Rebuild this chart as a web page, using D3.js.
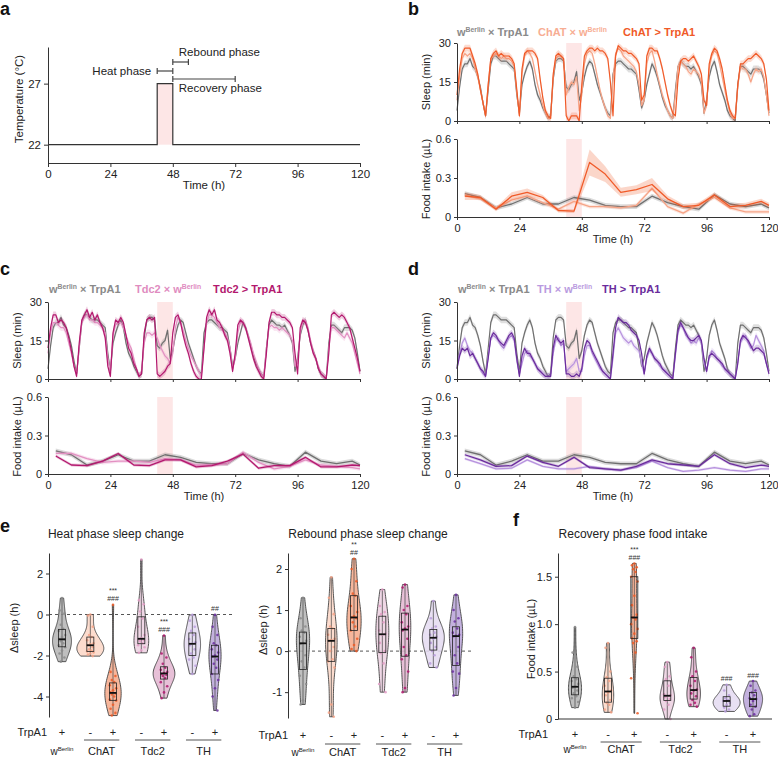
<!DOCTYPE html>
<html><head><meta charset="utf-8">
<script src="https://cdn.jsdelivr.net/npm/d3@7/dist/d3.min.js"></script>
<style>html,body{margin:0;padding:0;background:#fff}</style>
</head><body>
<svg id="fig" width="778" height="759" xmlns="http://www.w3.org/2000/svg"></svg>
<script>
// ================= DATA =================
const timeTicks = [0, 24, 48, 72, 96, 120];
const tempTime  = [0, 42, 42, 48, 48, 120];
const tempValue = [22, 22, 27, 27, 22, 22];
const tempTicks = [22, 27];
const phaseLabels = ["Heat phase", "Rebound phase", "Recovery phase"];
const phaseStart = [42, 48, 48];
const phaseEnd   = [48, 54, 72];
const heatWindow = [42, 48];

const sleepHours = d3.range(0, 121);
const sleepCtrl = [4,13,20,22,22,24,21,20,17,13,7,2, 12,22,25,25,24,23,23,23,22,21,20,10, 3,14,18,21,23,20,14,10,8,5,3,1, 2,16,23,24,24,23,13,12,14,15,19,8, 11,17,21,23,22,18,14,11,8,5,3,2, 18,22,23,23,22,21,20,20,19,18,12,5, 8,14,18,22,20,17,13,9,6,4,2,1, 12,21,23,22,21,21,20,21,19,17,14,3, 8,17,21,23,19,14,11,8,4,2,1,0, 14,21,21,20,19,18,20,20,20,19,16,10,3];
const sleepChatCtrl = [8,17,24,26,25,26,24,20,17,12,7,2, 14,24,25,26,25,24,25,24,24,23,21,11, 2,18,25,27,26,24,19,14,10,6,3,1, 1,17,24,25,25,24,10,13,15,14,17,4, 10,22,26,27,26,22,17,12,8,5,2,1, 16,26,28,27,25,24,23,22,21,19,14,6, 8,22,26,27,23,18,14,10,7,4,2,1, 10,21,23,22,21,19,18,20,19,18,15,3, 6,20,25,27,26,22,17,12,7,3,1,1, 13,21,20,20,18,15,18,20,19,20,17,10,2];
const sleepChatExp = [10,20,26,28,28,28,25,22,18,12,7,2, 14,24,26,27,25,26,25,25,25,24,22,12, 2,20,26,27,27,27,26,24,16,9,4,2, 1,18,25,26,25,24,2,0,2,2,2,0, 14,25,27,28,28,27,28,27,27,26,24,15, 2,25,29,28,27,27,26,26,25,24,22,8, 10,25,28,28,27,27,24,20,15,10,6,3, 2,16,23,24,24,23,24,25,23,21,18,8, 6,22,26,28,27,24,20,14,8,4,2,1, 14,22,22,23,24,24,25,26,25,24,22,16,4];
const sleepTdc2Ctrl = [10,18,22,22,21,20,20,18,14,10,5,2, 12,22,24,25,23,23,22,22,21,20,18,8, 3,17,21,22,22,20,17,14,12,8,4,1, 3,14,18,18,17,18,16,13,11,9,8,6, 10,20,24,22,19,15,12,9,7,5,3,1, 12,22,25,25,24,22,20,19,18,16,12,4, 8,18,22,22,20,17,14,10,7,4,2,1, 12,20,21,20,20,19,20,19,18,17,15,5, 6,18,22,23,20,15,11,8,5,2,1,0, 12,20,20,19,18,17,16,18,16,14,10,6,2];
const sleepTdc2Exp = [12,20,25,25,22,23,22,20,16,11,5,1, 14,23,25,27,24,26,23,25,22,20,16,5, 1,18,23,22,24,22,17,12,10,6,4,1, 2,18,23,24,23,24,2,1,2,3,5,6, 18,24,25,22,17,13,10,6,3,1,0,0, 12,24,27,25,27,23,22,20,17,15,10,3, 10,21,23,22,20,16,12,8,5,3,1,0, 10,22,26,26,25,25,24,24,23,22,20,10, 2,20,23,22,19,14,10,8,4,2,1,0, 10,25,26,25,24,25,24,22,20,16,12,8,3];
const sleepThCtrl = [5,10,14,16,13,11,10,8,6,4,2,1, 9,16,17,16,15,13,12,14,16,17,15,7, 2,6,10,11,9,8,6,4,3,2,1,1, 1,10,15,16,13,14,3,4,5,6,8,3, 3,9,13,13,10,8,6,4,3,2,1,0, 8,18,20,18,16,15,14,15,13,12,11,6, 2,8,11,10,8,7,5,4,3,2,1,0, 9,18,21,20,17,16,14,15,14,16,14,6, 3,8,11,10,8,7,5,4,3,2,1,0, 7,14,16,17,14,12,13,17,15,13,11,6,3];
const sleepThExp = [4,9,12,11,12,9,10,8,6,4,3,1, 8,16,18,17,15,14,13,15,17,18,16,8, 1,9,12,10,10,8,6,4,3,2,1,1, 1,12,17,15,14,15,2,2,1,1,2,1, 4,12,15,14,11,9,7,5,3,2,1,0, 10,20,24,23,22,22,21,19,18,17,15,10, 2,9,12,10,8,7,6,4,3,2,1,0, 10,19,22,20,18,16,15,15,16,17,15,8, 3,9,10,9,8,7,6,4,3,2,1,0, 6,15,17,16,15,13,11,12,12,11,10,6,2];
const semSleep = 1.3;

const foodTime = [3,9,15,21,27,33,39,45,51,57,63,69,75,81,87,93,99,105,111,117,120];
const foodCtrl     = [0.18,0.15,0.07,0.10,0.15,0.10,0.10,0.15,0.13,0.09,0.08,0.08,0.16,0.11,0.08,0.06,0.17,0.10,0.08,0.10,0.07];
const foodChatCtrl = [0.17,0.14,0.07,0.13,0.16,0.11,0.06,0.12,0.08,0.08,0.07,0.09,0.22,0.08,0.03,0.10,0.15,0.07,0.04,0.04,0.04];
const foodChatExp  = [0.16,0.15,0.06,0.16,0.19,0.15,0.05,0.045,0.42,0.33,0.19,0.21,0.25,0.14,0.08,0.09,0.17,0.08,0.09,0.12,0.09];
const foodTdc2Ctrl = [0.16,0.16,0.12,0.09,0.10,0.10,0.09,0.12,0.11,0.07,0.07,0.08,0.17,0.09,0.04,0.06,0.11,0.07,0.06,0.05,0.04];
const foodTdc2Exp  = [0.14,0.07,0.065,0.10,0.16,0.07,0.065,0.11,0.11,0.055,0.065,0.10,0.155,0.045,0.065,0.065,0.13,0.055,0.055,0.07,0.065];
const foodThCtrl   = [0.12,0.08,0.04,0.045,0.11,0.06,0.04,0.04,0.06,0.04,0.03,0.05,0.10,0.05,0.02,0.03,0.05,0.03,0.02,0.04,0.04];
const foodThExp    = [0.15,0.11,0.06,0.065,0.14,0.09,0.06,0.13,0.05,0.04,0.03,0.06,0.11,0.08,0.07,0.06,0.15,0.08,0.05,0.07,0.06];
const semFoodCtrl = 0.018, semFoodChatCtrl = 0.015, semFoodTdc2Ctrl = 0.015, semFoodTdc2Exp = 0.012, semFoodThCtrl = 0.01, semFoodThExp = 0.012;
const semFoodChatExp = [0.03,0.02,0.015,0.03,0.03,0.02,0.015,0.015,0.10,0.06,0.035,0.035,0.05,0.025,0.02,0.02,0.02,0.02,0.02,0.02,0.02];

const legendB = [[["w",0],["Berlin",1],[" × TrpA1",0]], [["ChAT × w",0],["Berlin",1]], [["ChAT > TrpA1",0]]];
const legendC = [[["w",0],["Berlin",1],[" × TrpA1",0]], [["Tdc2 × w",0],["Berlin",1]], [["Tdc2 > TrpA1",0]]];
const legendD = [[["w",0],["Berlin",1],[" × TrpA1",0]], [["TH × w",0],["Berlin",1]], [["TH > TrpA1",0]]];

// violin groups: wBerlin+, ChAT-, ChAT+, Tdc2-, Tdc2+, TH-, TH+
const groupSigns = ["+", "-", "+", "-", "+", "-", "+"];
const groupNames = [[["w",0],["Berlin",1]], [["ChAT",0]], [["Tdc2",0]], [["TH",0]]];
const heatChange = [
  [0.8,0.2,0.05,-0.5,-0.7,-0.8,-1.0,-1.1,-1.2,-1.22,-1.3,-1.4,-1.5,-1.6,-1.76,-1.9,-2.1,-2.3],
  [0.0,-0.05,-0.6,-1.0,-1.1,-1.25,-1.4,-1.45,-1.5,-1.6,-1.7,-1.76,-1.8,-1.85,-1.9,-1.95,-2.03],
  [0.47,-2.8,-3.0,-3.2,-3.3,-3.45,-3.6,-3.7,-3.8,-3.85,-3.9,-4.0,-4.15,-4.2,-4.4,-4.6,-4.8,-4.93],
  [2.68,0.7,0.5,0.15,-0.2,-0.6,-1.0,-1.15,-1.22,-1.25,-1.3,-1.4,-1.5,-1.6,-1.75,-1.87],
  [-1.03,-1.9,-2.1,-2.4,-2.6,-2.7,-2.8,-2.85,-2.9,-2.95,-3.0,-3.1,-3.3,-3.5,-3.8,-4.08],
  [-0.02,-0.3,-0.6,-0.8,-1.0,-1.2,-1.35,-1.43,-1.5,-1.7,-1.9,-2.1,-2.2,-2.5,-2.9],
  [-0.02,-0.6,-1.0,-1.4,-1.5,-1.7,-1.85,-2.0,-2.05,-2.2,-2.4,-2.6,-2.9,-3.2,-3.6,-4.0,-4.68]
];
const reboundChange = [
  [1.3,0.8,0.6,0.5,0.45,0.35,0.25,0.2,0.18,-0.1,-0.25,-0.4,-0.6,-0.8,-1.2,-1.3],
  [1.8,1.3,0.9,0.6,0.55,0.4,0.3,0.27,0.25,0.1,0.0,-0.2,-0.25,-0.4,-1.3,-1.5,-1.6],
  [2.25,2.0,1.7,1.4,1.35,1.1,0.95,0.85,0.82,0.8,0.7,0.6,0.5,0.3,0.15,0.05,0.0],
  [1.5,1.1,0.95,0.9,0.7,0.5,0.42,0.4,0.2,0.0,-0.05,-0.3,-0.8,-1.0],
  [1.62,1.55,1.1,1.0,0.9,0.7,0.6,0.55,0.5,0.3,0.1,-0.1,-0.2,-0.5,-0.9,-1.0],
  [1.22,0.8,0.6,0.55,0.45,0.4,0.35,0.3,0.2,0.1,0.0,-0.1,-0.3,-0.4],
  [1.37,1.0,0.8,0.72,0.55,0.45,0.4,0.37,0.36,0.1,-0.1,-0.3,-0.5,-0.55,-0.9,-1.08]
];
const recoveryFood = [
  [0.97,0.7,0.55,0.45,0.42,0.40,0.37,0.34,0.33,0.30,0.27,0.24,0.22,0.18,0.12],
  [0.8,0.75,0.5,0.44,0.4,0.35,0.3,0.28,0.25,0.2,0.17,0.15,0.1,0.07],
  [1.64,1.62,1.6,1.58,1.55,1.5,1.45,1.3,1.2,1.1,1.07,1.05,1.0,0.95,0.9,0.85,0.82,0.8,0.7,0.43,0.06],
  [0.6,0.55,0.45,0.42,0.35,0.26,0.25,0.24,0.23,0.21,0.19,0.15,0.1,0.0],
  [0.75,0.65,0.5,0.45,0.4,0.35,0.31,0.3,0.27,0.24,0.2,0.17,0.15,0.13],
  [0.36,0.3,0.25,0.22,0.2,0.19,0.17,0.15,0.12,0.1,0.08],
  [0.4,0.35,0.3,0.28,0.25,0.22,0.21,0.19,0.15,0.13,0.1,0.05,0.03]
];
const heatStats = [null, null, ["***","###"], null, ["***","###"], null, ["##"]];
const reboundStats = [null, null, ["**","##"], null, null, null, null];
const recoveryStats = [null, null, ["***","###"], null, null, ["###"], ["###"]];

// ================= STYLE =================
const FONT = "'Liberation Sans', Arial, Helvetica, sans-serif";
const HEAT = "#fde6e6";
const C = {
  ctrl: "#6f6f6f", chatC: "#f6a487", chatE: "#f05a28", tdcC: "#e390c2", tdcE: "#b3186e", thC: "#b792de", thE: "#6a2c9c"
};
const legendCol = {ctrl: "#8a8a8a", chatC: "#f7ad93", chatE: "#f05a28", tdcC: "#e08cbf", tdcE: "#b3186e", thC: "#b99ae0", thE: "#6a2c9c"};
const violinFill = ["#b4b4b4", "#fcd6c6", "#f6a98a", "#ecd0e1", "#e3b5d0", "#e4daf1", "#b9a3d8"];
const dotCol = ["#8b8b8b", "#f5a286", "#ef5a26", "#e29cc6", "#b0176e", "#b99cdc", "#6b2fa0"];
const slotPos = [0, 1.25, 2.25, 3.5, 4.5, 5.75, 6.75];

const svg = d3.select("#fig").attr("font-family", FONT);

function styleAxis(g, fs) {
  g.selectAll("path.domain").attr("stroke", "#333").attr("stroke-width", 1);
  g.selectAll(".tick line").attr("stroke", "#333").attr("stroke-width", 1);
  g.selectAll(".tick text").attr("font-size", fs || 11).attr("fill", "#222").attr("font-family", FONT);
}
function richText(g, x, y, parts, opt) {
  const size = opt.size || 11;
  const t = g.append("text").attr("x", x).attr("y", y).attr("font-size", size)
    .attr("fill", opt.fill || "#222").attr("font-weight", opt.weight || "normal")
    .attr("text-anchor", opt.anchor || "start");
  let sup = false;
  parts.forEach(([s, isSup]) => {
    const ts = t.append("tspan").text(s);
    if (isSup && !sup) ts.attr("font-size", size * 0.62).attr("dy", -size * 0.38);
    else if (!isSup && sup) ts.attr("dy", size * 0.38);
    else if (isSup) ts.attr("font-size", size * 0.62);
    sup = !!isSup;
  });
  return t;
}
function letter(l, x, y) {
  svg.append("text").attr("x", x).attr("y", y).attr("font-size", 18).attr("font-weight", "bold").attr("fill", "#111").text(l);
}
function vLabel(text, x, y, fs) {
  svg.append("text").attr("transform", `translate(${x},${y}) rotate(-90)`).attr("text-anchor", "middle")
    .attr("font-size", fs || 11).attr("fill", "#222").text(text);
}

// ================= PANEL a =================
(function () {
  const g = svg.append("g");
  const x = d3.scaleLinear().domain([0, 120]).range([48, 360]);
  const y = d3.scaleLinear().domain([20.5, 30]).range([163, 47]);
  g.append("rect").attr("x", x(heatWindow[0])).attr("width", x(heatWindow[1]) - x(heatWindow[0]))
    .attr("y", y(27)).attr("height", y(22) - y(27)).attr("fill", HEAT);
  const pts = tempTime.map((t, i) => [t, tempValue[i]]);
  g.append("path").attr("d", d3.line().x(d => x(d[0])).y(d => y(d[1]))(pts))
    .attr("fill", "none").attr("stroke", "#333").attr("stroke-width", 1.2);
  const ax = g.append("g").attr("transform", "translate(0,163)")
    .call(d3.axisBottom(x).tickValues(timeTicks).tickSize(4).tickPadding(3).tickSizeOuter(0));
  styleAxis(ax, 11.5);
  const ay = g.append("g").attr("transform", "translate(48,0)")
    .call(d3.axisLeft(y).tickValues(tempTicks).tickSize(4).tickPadding(3).tickSizeOuter(0));
  styleAxis(ay, 11.5);
  const barY = [71, 62, 79];
  phaseLabels.forEach((lab, i) => {
    const yy = barY[i], xa = x(phaseStart[i]), xb = x(phaseEnd[i]);
    g.append("line").attr("x1", xa).attr("x2", xb).attr("y1", yy).attr("y2", yy).attr("stroke", "#444").attr("stroke-width", 1.2);
    [xa, xb].forEach(xx => g.append("line").attr("x1", xx).attr("x2", xx).attr("y1", yy - 3).attr("y2", yy + 3).attr("stroke", "#444").attr("stroke-width", 1.2));
  });
  g.append("text").attr("x", x(phaseStart[0]) - 6).attr("y", 75).attr("text-anchor", "end").attr("font-size", 11.5).attr("fill", "#222").text(phaseLabels[0]);
  g.append("text").attr("x", x(phaseStart[1]) + 6).attr("y", 56).attr("font-size", 11.5).attr("fill", "#222").text(phaseLabels[1]);
  g.append("text").attr("x", x(phaseStart[2]) + 6).attr("y", 92).attr("font-size", 11.5).attr("fill", "#222").text(phaseLabels[2]);
  g.append("text").attr("x", 204).attr("y", 189).attr("text-anchor", "middle").attr("font-size", 11.5).attr("fill", "#222").text("Time (h)");
  vLabel("Temperature (°C)", 23, 99, 11.5);
  letter("a", 0, 15);
})();

// ================= PANELS b, c, d =================
function drawTS(cfg) {
  const g = svg.append("g");
  const x = d3.scaleLinear().domain([0, 120]).range([cfg.x0, cfg.x1]);
  const ys = d3.scaleLinear().domain([0, 30]).range([cfg.sBot, cfg.sTop]);
  const yf = d3.scaleLinear().domain([0, 0.6]).range([cfg.fBot, cfg.fTop]);
  [[cfg.sTop, cfg.sBot], [cfg.fTop, cfg.fBot]].forEach(([t, b]) =>
    g.append("rect").attr("x", x(heatWindow[0])).attr("width", x(heatWindow[1]) - x(heatWindow[0]))
      .attr("y", t).attr("height", b - t).attr("fill", HEAT));
  cfg.sleep.forEach((arr, k) => {
    const pts = sleepHours.map((h, i) => [h, arr[i]]);
    g.append("path").attr("d", d3.area().x(d => x(d[0])).y0(d => ys(Math.max(0, d[1] - semSleep))).y1(d => ys(Math.min(30, d[1] + semSleep)))(pts))
      .attr("fill", cfg.colors[k]).attr("opacity", 0.22);
    g.append("path").attr("d", d3.line().x(d => x(d[0])).y(d => ys(d[1]))(pts))
      .attr("fill", "none").attr("stroke", cfg.colors[k]).attr("stroke-width", 1.2).attr("stroke-linejoin", "round");
  });
  cfg.food.forEach((arr, k) => {
    const sem = cfg.foodSem[k];
    const pts = foodTime.map((t, i) => [t, arr[i], typeof sem === "number" ? sem : sem[i]]);
    g.append("path").attr("d", d3.area().x(d => x(d[0])).y0(d => yf(Math.max(0, d[1] - d[2]))).y1(d => yf(d[1] + d[2]))(pts))
      .attr("fill", cfg.colors[k]).attr("opacity", 0.25);
    g.append("path").attr("d", d3.line().x(d => x(d[0])).y(d => yf(d[1]))(pts))
      .attr("fill", "none").attr("stroke", cfg.colors[k]).attr("stroke-width", 1.3).attr("stroke-linejoin", "round");
  });
  styleAxis(g.append("g").attr("transform", `translate(0,${cfg.sBot})`)
    .call(d3.axisBottom(x).tickValues(timeTicks).tickFormat("").tickSize(3).tickSizeOuter(0)));
  styleAxis(g.append("g").attr("transform", `translate(${cfg.x0},0)`)
    .call(d3.axisLeft(ys).tickValues([0, 15, 30]).tickSize(3).tickPadding(3).tickSizeOuter(0)));
  styleAxis(g.append("g").attr("transform", `translate(0,${cfg.fBot})`)
    .call(d3.axisBottom(x).tickValues(timeTicks).tickSize(3).tickPadding(4).tickSizeOuter(0)));
  styleAxis(g.append("g").attr("transform", `translate(${cfg.x0},0)`)
    .call(d3.axisLeft(yf).tickValues([0, 0.3, 0.6]).tickFormat(d => d === 0 ? "0" : d3.format(".1f")(d)).tickSize(3).tickPadding(3).tickSizeOuter(0)));
  g.append("text").attr("x", (cfg.x0 + cfg.x1) / 2).attr("y", cfg.timeY).attr("text-anchor", "middle").attr("font-size", 11).attr("fill", "#222").text("Time (h)");
  vLabel("Sleep (min)", cfg.labelX, (cfg.sTop + cfg.sBot) / 2);
  vLabel("Food intake (µL)", cfg.labelX, (cfg.fTop + cfg.fBot) / 2 + 1);
  cfg.legend.forEach((parts, k) => richText(g, cfg.legendX[k], cfg.legendY, parts, {size: 11, weight: "bold", fill: cfg.legendColors[k]}));
  letter(cfg.letter, cfg.letterX, cfg.letterY);
}

drawTS({x0: 457, x1: 769, sTop: 43, sBot: 121, fTop: 139, fBot: 217, timeY: 243, labelX: 430,
  legend: legendB, legendX: [457, 538, 623], legendY: 36, legendColors: [legendCol.ctrl, legendCol.chatC, legendCol.chatE],
  sleep: [sleepCtrl, sleepChatCtrl, sleepChatExp], food: [foodCtrl, foodChatCtrl, foodChatExp],
  foodSem: [semFoodCtrl, semFoodChatCtrl, semFoodChatExp], colors: [C.ctrl, C.chatC, C.chatE],
  letter: "b", letterX: 408, letterY: 15});
drawTS({x0: 48, x1: 360, sTop: 302, sBot: 379, fTop: 397, fBot: 474, timeY: 500, labelX: 21,
  legend: legendC, legendX: [49, 135, 213], legendY: 293, legendColors: [legendCol.ctrl, legendCol.tdcC, legendCol.tdcE],
  sleep: [sleepCtrl, sleepTdc2Ctrl, sleepTdc2Exp], food: [foodCtrl, foodTdc2Ctrl, foodTdc2Exp],
  foodSem: [semFoodCtrl, semFoodTdc2Ctrl, semFoodTdc2Exp], colors: [C.ctrl, C.tdcC, C.tdcE],
  letter: "c", letterX: 0, letterY: 275});
drawTS({x0: 457, x1: 769, sTop: 302, sBot: 379, fTop: 397, fBot: 474, timeY: 500, labelX: 430,
  legend: legendD, legendX: [458, 537, 602], legendY: 293, legendColors: [legendCol.ctrl, legendCol.thC, legendCol.thE],
  sleep: [sleepCtrl, sleepThCtrl, sleepThExp], food: [foodCtrl, foodThCtrl, foodThExp],
  foodSem: [semFoodCtrl, semFoodThCtrl, semFoodThExp], colors: [C.ctrl, C.thC, C.thE],
  letter: "d", letterX: 408, letterY: 275});

// ================= PANELS e, f =================
function kde(vals, bw, p) {
  const k = 1 / (bw * Math.sqrt(2 * Math.PI));
  return k * d3.mean(vals, v => Math.exp(-0.5 * ((p - v) / bw) ** 2));
}
function drawViolins(cfg) {
  const g = svg.append("g");
  const y = d3.scaleLinear().domain(cfg.yDomain).range([cfg.yBot, cfg.yTop]);
  const x = d3.scaleLinear().domain([0, 6.75]).range([cfg.xFirst, cfg.xLast]);
  const unit = x(1) - x(0);
  const dens = cfg.groups.map(vals => {
    const n = vals.length, sd = d3.deviation(vals), bw = sd * Math.pow(n, -0.2);
    const lo = d3.min(vals), hi = d3.max(vals);
    return d3.range(0, 61).map(i => { const p = lo + (hi - lo) * i / 60; return [p, kde(vals, bw, p)]; });
  });
  const gmax = d3.max(dens, d => d3.max(d, e => e[1]));
  const K = cfg.maxHalf / gmax;
  if (cfg.dashZero) g.append("line").attr("x1", cfg.axisX).attr("x2", cfg.dashEnd).attr("y1", y(0)).attr("y2", y(0))
    .attr("stroke", "#555").attr("stroke-width", 1).attr("stroke-dasharray", "3,3");
  cfg.groups.forEach((vals, i) => {
    const cx = x(slotPos[i]);
    g.append("path").attr("d", d3.area().curve(d3.curveBasis).y(d => y(d[0])).x0(d => cx - d[1] * K).x1(d => cx + d[1] * K)(dens[i]))
      .attr("fill", violinFill[i]).attr("fill-opacity", 0.85).attr("stroke", "#444").attr("stroke-width", 0.9);
    const s = vals.slice().sort(d3.ascending);
    const q1 = d3.quantile(s, 0.25), q2 = d3.quantile(s, 0.5), q3 = d3.quantile(s, 0.75);
    g.append("line").attr("x1", cx).attr("x2", cx).attr("y1", y(s[0])).attr("y2", y(s[s.length - 1])).attr("stroke", "#444").attr("stroke-width", 0.7);
    const offs = [0, -2.4, 2.4, -1.2, 1.2, -3.2, 3.2];
    vals.forEach((v, j) => g.append("circle").attr("cx", cx + offs[j % 7]).attr("cy", y(v)).attr("r", 1.3)
      .attr("fill", dotCol[i]).attr("opacity", 0.85));
    g.append("rect").attr("x", cx - 3.5).attr("width", 7).attr("y", y(q3)).attr("height", y(q1) - y(q3))
      .attr("fill", "none").attr("stroke", "#222").attr("stroke-width", 0.8);
    g.append("line").attr("x1", cx - 3.5).attr("x2", cx + 3.5).attr("y1", y(q2)).attr("y2", y(q2)).attr("stroke", "#111").attr("stroke-width", 1.8);
    const st = cfg.stats[i];
    if (st) {
      const top = y(s[s.length - 1]);
      st.slice().reverse().forEach((t, j) => g.append("text").attr("x", cx).attr("y", top - 3.5 - j * 8)
        .attr("text-anchor", "middle").attr("font-size", 7).attr("fill", "#333").text(t));
    }
    g.append("text").attr("x", cx).attr("y", cfg.signY).attr("text-anchor", "middle").attr("font-size", 11).attr("fill", "#222").text(groupSigns[i]);
  });
  g.append("text").attr("x", x(0) - cfg.trpGap).attr("y", cfg.signY).attr("text-anchor", "end").attr("font-size", 11).attr("fill", "#222").text("TrpA1");
  const centers = [x(slotPos[0]), (x(slotPos[1]) + x(slotPos[2])) / 2, (x(slotPos[3]) + x(slotPos[4])) / 2, (x(slotPos[5]) + x(slotPos[6])) / 2];
  groupNames.forEach((parts, k) => {
    richText(g, centers[k], cfg.nameY, parts, {size: k === 0 ? 10 : 11, anchor: "middle"});
    if (k > 0) g.append("line").attr("x1", centers[k] - 0.78 * unit).attr("x2", centers[k] + 0.78 * unit)
      .attr("y1", cfg.underY).attr("y2", cfg.underY).attr("stroke", "#555").attr("stroke-width", 1);
  });
  const ay = g.append("g").attr("transform", `translate(${cfg.axisX},0)`)
    .call(d3.axisLeft(y).tickValues(cfg.ticks).tickFormat(cfg.fmt).tickSize(3).tickPadding(3).tickSizeOuter(0));
  styleAxis(ay, 11);
  if (cfg.xAxisEnd) g.append("line").attr("x1", cfg.axisX).attr("x2", cfg.xAxisEnd).attr("y1", cfg.yBot).attr("y2", cfg.yBot).attr("stroke", "#333").attr("stroke-width", 1);
  g.append("text").attr("x", cfg.titleX).attr("y", 538).attr("text-anchor", "middle").attr("font-size", 12).attr("fill", "#222").text(cfg.title);
  vLabel(cfg.yLabel, cfg.yLabelX, cfg.yLabelY, 11);
}

drawViolins({groups: heatChange, stats: heatStats, yDomain: [-5, 3], yBot: 717, yTop: 553, xFirst: 62, xLast: 215, axisX: 49,
  maxHalf: 13.5, dashZero: true, dashEnd: 233, ticks: [-4, -2, 0, 2], fmt: d => d, signY: 736, underY: 740, nameY: 755, trpGap: 15,
  title: "Heat phase sleep change", titleX: 116, yLabel: "Δsleep (h)", yLabelX: 18, yLabelY: 628});
drawViolins({groups: reboundChange, stats: reboundStats, yDomain: [-1.63, 2.39], yBot: 718, yTop: 553, xFirst: 303, xLast: 456, axisX: 288,
  maxHalf: 11, dashZero: true, dashEnd: 473, ticks: [-1, 0, 1, 2], fmt: d => d, signY: 739, underY: 744, nameY: 756, trpGap: 15,
  title: "Rebound phase sleep change", titleX: 368, yLabel: "Δsleep (h)", yLabelX: 267, yLabelY: 630});
drawViolins({groups: recoveryFood, stats: recoveryStats, yDomain: [0, 1.75], yBot: 719, yTop: 553, xFirst: 575, xLast: 753, axisX: 558,
  maxHalf: 13.5, dashZero: false, xAxisEnd: 772, ticks: [0, 0.5, 1.0, 1.5], fmt: d => d === 0 ? "0" : d3.format(".1f")(d), signY: 738, underY: 742, nameY: 753, trpGap: 27,
  title: "Recovery phase food intake", titleX: 633, yLabel: "Food intake (µL)", yLabelX: 535, yLabelY: 639});
letter("e", 0, 532);
letter("f", 513, 526);
</script>
</body></html>
